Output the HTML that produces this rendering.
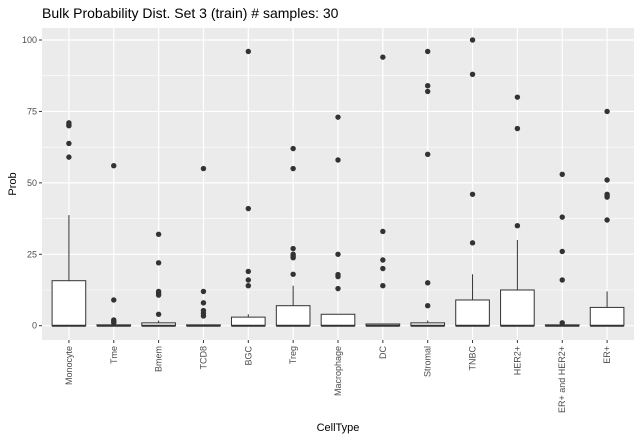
<!DOCTYPE html>
<html><head><meta charset="utf-8"><style>body{margin:0;background:#fff}svg{display:block;font-family:"Liberation Sans",sans-serif}</style></head>
<body>
<svg id="c" width="640" height="440"></svg>
<script>
const categories=["Monocyte","Tme","Bmem","TCD8","BGC","Treg","Macrophage","DC","Stromal","TNBC","HER2+","ER+ and HER2+","ER+"];
const q1=[0,0,0,0,0,0,0,0,0,0,0,0,0];
const medians=[0,0,0,0,0,0,0,0,0,0,0,0,0];
const q3=[15.75,0.3,1,0.3,3,7,4,0.6,1,9,12.5,0.3,6.4];
const whiskerLow=[0,0,0,0,0,0,0,0,0,0,0,0,0];
const whiskerHigh=[38.7,0.5,1.8,0.3,4,14,4,0.8,1.8,18,30,0.3,12];
const outliers=[[71,70.3,70,63.8,59],[56,9,2,1.5,1],[32,22,12,11.3,10.7,4],[55,12,8,5.3,4.3,3.4],[96,41,19,16,14],[62,55,27,25,24.4,23.8,18],[73,58,25,17.9,17.2,13],[94,33,23,20,14],[96,84,82,60,15,7],[100,88,46,29],[80,69,35],[53,38,26,16,1],[75,51,46,45.5,45,37]];
const yTicks=[0,25,50,75,100];
const NS="http://www.w3.org/2000/svg",svg=document.getElementById('c');
const L=42,R=634,T=28,B=340;
const bw=(R-L)/(categories.length-1+1.2);
const x=i=>L+bw*(i+0.6);
const y=v=>325.7-v*2.857;
function el(t,a,p){const e=document.createElementNS(NS,t);for(const k in a)e.setAttribute(k,a[k]);(p||svg).appendChild(e);return e;}
const panel=el('rect',{x:L,y:T,width:R-L,height:B-T,fill:'#ebebeb'});


for(let i=0;i<yTicks.length-1;i++){const m=(yTicks[i]+yTicks[i+1])/2;el('line',{x1:L,x2:R,y1:y(m),y2:y(m),stroke:'#fff','stroke-width':0.6});}
yTicks.forEach(v=>{
 const g=el('line',{x1:L,x2:R,y1:y(v),y2:y(v),stroke:'#fff','stroke-width':1.2});
 
 
 el('line',{x1:L-3,x2:L,y1:y(v),y2:y(v),stroke:'#333','stroke-width':1});
 const t=el('text',{x:L-5,y:y(v)+3,'text-anchor':'end','font-size':9,fill:'#4d4d4d'});t.textContent=v;
 
 
});
categories.forEach((c,i)=>{
 const cx=x(i);
 el('line',{x1:cx,x2:cx,y1:T,y2:B,stroke:'#fff','stroke-width':1.2});
 el('line',{x1:cx,x2:cx,y1:B,y2:B+3,stroke:'#333','stroke-width':1});
 const g=el('g',{});
 
 
 el('line',{x1:cx,x2:cx,y1:y(q3[i]),y2:y(whiskerHigh[i]),stroke:'#333','stroke-width':1},g);
 el('line',{x1:cx,x2:cx,y1:y(q1[i]),y2:y(whiskerLow[i]),stroke:'#333','stroke-width':1},g);
 const h=bw*0.75;
 el('rect',{x:cx-h/2,y:y(q3[i]),width:h,height:Math.max(0.01,y(q1[i])-y(q3[i])),fill:'#fff',stroke:'#333','stroke-width':1},g);
 el('line',{x1:cx-h/2,x2:cx+h/2,y1:y(medians[i]),y2:y(medians[i]),stroke:'#333','stroke-width':2},g);
 outliers[i].forEach(v=>{const p=el('circle',{cx:cx,cy:y(v),r:2.7,fill:'#333'},g);
  
  });
 const t=el('text',{x:0,y:0,'text-anchor':'end','font-size':9,fill:'#4d4d4d',transform:`translate(${cx+3},${B+6}) rotate(-90)`});t.textContent=c;
 
 
});
let t=el('text',{x:(L+R)/2,y:431,'text-anchor':'middle','font-size':11,fill:'#000'});t.textContent='CellType';


t=el('text',{x:0,y:0,'text-anchor':'middle','font-size':11,fill:'#000',transform:`translate(16,${(T+B)/2}) rotate(-90)`});t.textContent='Prob';


t=el('text',{x:42,y:18,'font-size':14,fill:'#000'});t.textContent='Bulk Probability Dist. Set 3 (train) # samples: 30';


</script>
</body></html>
